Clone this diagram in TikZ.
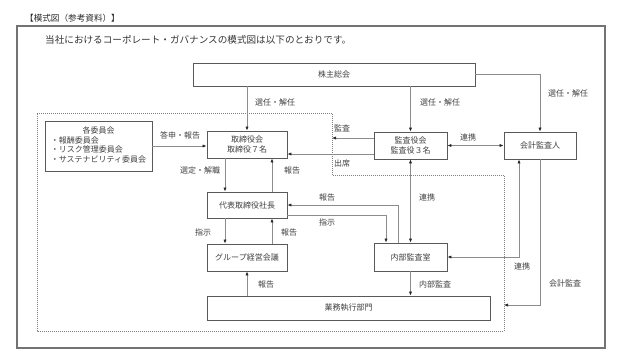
\documentclass[tikz,border=0pt]{standalone}
\usepackage{fontspec}
\setmainfont{Noto Sans CJK JP}
\usetikzlibrary{arrows.meta}
\begin{document}
\begin{tikzpicture}[x=1bp,y=-1bp,
  box/.style={draw=black!65,line width=0.8bp,inner sep=0pt,fill=white,
    font=\fontsize{8bp}{10bp}\selectfont,text=black!75,align=center},
  lbl/.style={font=\fontsize{8bp}{10bp}\selectfont,text=black!75,inner sep=0pt},
  cline/.style={draw=black!45,line width=0.7bp},
  onearrow/.style={cline,-{Latex[length=4bp,width=3.2bp,color=black!85]}},
  twoarrow/.style={cline,{Latex[length=4bp,width=3.2bp,color=black!85]}-{Latex[length=4bp,width=3.2bp,color=black!85]}}]
\useasboundingbox (0,0) rectangle (620,357);
% title and frame
\node[anchor=west,font=\fontsize{8.6bp}{10bp}\selectfont,inner sep=0pt,text=black!85] (title) at (25,18) {【模式図（参考資料）】};
\draw[black!55,line width=1.3bp] (17,26) rectangle (605,348);
\node[anchor=west,font=\fontsize{9.6bp}{11bp}\selectfont,inner sep=0pt,text=black!80] (intro) at (45,40) {当社におけるコーポレート・ガバナンスの模式図は以下のとおりです。};
% dotted region
\draw[black!50,line width=0.7bp,dash pattern=on 1bp off 1bp]
  (37,113) -- (332,113) -- (332,175) -- (504,175) -- (504,331) -- (37,331) -- cycle;
% boxes
\node[box,minimum width=282bp,minimum height=23bp] (sh) at (334,74.5) {株主総会};
\node[box,minimum width=107bp,minimum height=50bp,font=\fontsize{8bp}{9.7bp}\selectfont] (iin) at (98.5,146)
  {\begin{tabular}{@{}l@{}}\multicolumn{1}{@{}c@{}}{各委員会}\\・報酬委員会\\・リスク管理委員会\\・サステナビリティ委員会\end{tabular}};
\node[box,minimum width=80bp,minimum height=27bp] (tb) at (247,144.5) {取締役会\\取締役７名};
\node[box,minimum width=73bp,minimum height=27bp] (ka) at (410.5,145.5) {監査役会\\監査役３名};
\node[box,minimum width=72bp,minimum height=27bp] (kk) at (540,145.5) {会計監査人};
\node[box,minimum width=80bp,minimum height=26bp] (ds) at (247,205) {代表取締役社長};
\node[box,minimum width=80bp,minimum height=27bp] (gk) at (247,257.5) {グループ経営会議};
\node[box,minimum width=73bp,minimum height=28bp] (nb) at (410.5,257) {内部監査室};
\node[box,minimum width=283bp,minimum height=24bp] (gy) at (348.5,308) {業務執行部門};
% helper coordinates
\coordinate (dc) at (332,138);
\coordinate (att) at (0,154);
\coordinate (xa) at (225,0);
\coordinate (xb) at (272,0);
\coordinate (xc) at (398,0);
\coordinate (xd) at (386,0);
\coordinate (yd) at (0,215);
\coordinate (xe) at (519,0);
\coordinate (dr) at (504,305);
% connectors
\draw[onearrow] (tb.north |- sh.south) -- (tb.north);
\node[lbl] (l1) at (275,102) {選任・解任};
\draw[onearrow] (ka.north |- sh.south) -- (ka.north);
\node[lbl] (l2) at (440,102) {選任・解任};
\draw[onearrow] (sh.east) -| (kk.north);
\node[lbl] (l3) at (568,93) {選任・解任};
\draw[onearrow] (iin.east) -- (iin.east -| tb.west);
\node[lbl] (l4) at (180,135) {答申・報告};
\draw[onearrow] (ka.west |- dc) -- (dc);
\node[lbl] (l5) at (342,128) {監査};
\draw[onearrow] (ka.west |- att) -- (tb.east |- att);
\node[lbl] (l6) at (342,163) {出席};
\draw[twoarrow] (ka.east) -- (kk.west);
\node[lbl] (l7) at (468,137) {連携};
\draw[onearrow] (tb.south -| xa) -- (ds.north -| xa);
\node[lbl] (l8) at (200,170) {選定・解職};
\draw[onearrow] (ds.north -| xb) -- (tb.south -| xb);
\node[lbl] (l9) at (292,170) {報告};
\draw[twoarrow] (ka.south) -- (nb.north);
\node[lbl] (l10) at (427,197) {連携};
\draw[onearrow] (nb.north -| xc) |- (ds.east);
\node[lbl] (l11) at (327,197) {報告};
\draw[onearrow] (ds.east |- yd) -| (nb.north -| xd);
\node[lbl] (l12) at (327,222) {指示};
\draw[onearrow] (ds.south -| xa) -- (gk.north -| xa);
\node[lbl] (l13) at (203,232) {指示};
\draw[onearrow] (gk.north -| xb) -- (ds.south -| xb);
\node[lbl] (l14) at (289,232) {報告};
\draw[onearrow] (gk.south |- gy.north) -- (gk.south);
\node[lbl] (l15) at (266,284) {報告};
\draw[onearrow] (nb.south) -- (nb.south |- gy.north);
\node[lbl] (l16) at (435,284) {内部監査};
\draw[twoarrow] (nb.east) -| (kk.south -| xe);
\node[lbl] (l17) at (522,266) {連携};
\draw[onearrow] (kk.south) |- (dr);
\node[lbl] (l18) at (565,283) {会計監査};
\end{tikzpicture}
\end{document}
